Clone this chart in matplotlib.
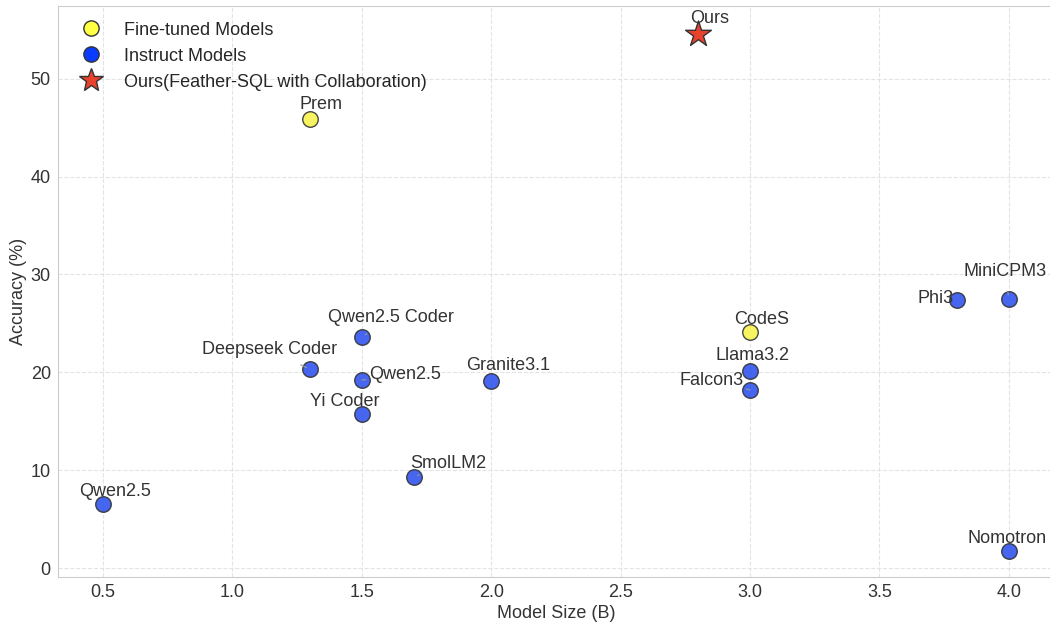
import matplotlib
matplotlib.use("Agg")
import matplotlib.pyplot as plt
import seaborn as sns
from matplotlib.lines import Line2D

sns.set_style("whitegrid", {"grid.linestyle": "--"})
plt.rcParams['font.family'] = ['Liberation Sans', 'DejaVu Sans']

ft_names = ["Prem", "CodeS"]
ft_size = [1.3, 3.0]
ft_acc = [45.9, 24.1]

in_names = ["Qwen2.5", "Deepseek Coder", "Qwen2.5 Coder", "Qwen2.5", "Yi Coder", "SmolLM2",
            "Granite3.1", "Llama3.2", "Falcon3", "Phi3", "MiniCPM3", "Nomotron"]
in_size = [0.5, 1.3, 1.5, 1.5, 1.5, 1.7, 2.0, 3.0, 3.0, 3.8, 4.0, 4.0]
in_acc = [6.5, 20.3, 23.6, 19.2, 15.7, 9.3, 19.1, 20.1, 18.2, 27.4, 27.5, 1.7]

ours_name = "Ours"
ours_size = 2.8
ours_acc = 54.6

# label offsets in pixels (style)
ft_off = [(11, 14), (12, 13)]
in_off = [(12, 13), (-41, 20), (29, 20), (43, 6), (-17, 13), (35, 14),
          (17, 16), (2, 16), (-39, 9), (-22, 1), (-4, 27), (-2, 13)]
ours_off = (11, 15)

fig, ax = plt.subplots(figsize=(10.5, 6.23), dpi=100)
fig.subplots_adjust(left=0.055, right=1.004, top=0.99, bottom=0.074)

ax.scatter(ft_size, ft_acc, s=125, c="#f7f250", edgecolors="#333333", linewidths=1.0, zorder=3, alpha=0.9)
ax.scatter(in_size, in_acc, s=125, c="#3355ee", edgecolors="#333333", linewidths=1.0, zorder=3, alpha=0.9)
ax.scatter([ours_size], [ours_acc], s=380, marker="*", c="#e8412c", edgecolors="#333333", linewidths=1.0, zorder=4)

def lab(name, x, y, off):
    dx, dy = off
    far = abs(dx) > 25 or abs(dy) > 18
    ax.annotate(name, (x, y), xytext=(dx, dy), textcoords="offset pixels",
                ha="center", va="center", fontsize=13, color="#333333", zorder=5,
                arrowprops=dict(arrowstyle="-", color="#999999", lw=0.8, shrinkA=6, shrinkB=3) if far else None)

for n, x, y, o in zip(ft_names, ft_size, ft_acc, ft_off):
    lab(n, x, y, o)
for n, x, y, o in zip(in_names, in_size, in_acc, in_off):
    lab(n, x, y, o)
lab(ours_name, ours_size, ours_acc, ours_off)

handles = [
    Line2D([], [], marker="o", linestyle="", markersize=11, markerfacecolor="#ffff44", markeredgecolor="#333333", label="Fine-tuned Models"),
    Line2D([], [], marker="o", linestyle="", markersize=11, markerfacecolor="#0a3cff", markeredgecolor="#333333", label="Instruct Models"),
    Line2D([], [], marker="*", linestyle="", markersize=18, markerfacecolor="#e8412c", markeredgecolor="#333333", label="Ours(Feather-SQL with Collaboration)"),
]
ax.legend(handles=handles, loc="upper left", fontsize=13, frameon=False, handletextpad=0.8,
          labelspacing=0.5, borderaxespad=0.45)

ax.set_xlabel("Model Size (B)", fontsize=13, color="#333333", labelpad=3)
ax.set_ylabel("Accuracy (%)", fontsize=13, color="#333333", labelpad=3)
ax.tick_params(labelsize=13, colors="#333333", length=0, pad=5)
ax.set_xlim(0.325, 4.175)
ax.set_ylim(-0.9, 57.4)
ax.grid(True, linestyle="--", color="#dddddd", alpha=0.8)
for s in ax.spines.values():
    s.set_color("#cccccc")

fig.savefig("out.png", dpi=100)
